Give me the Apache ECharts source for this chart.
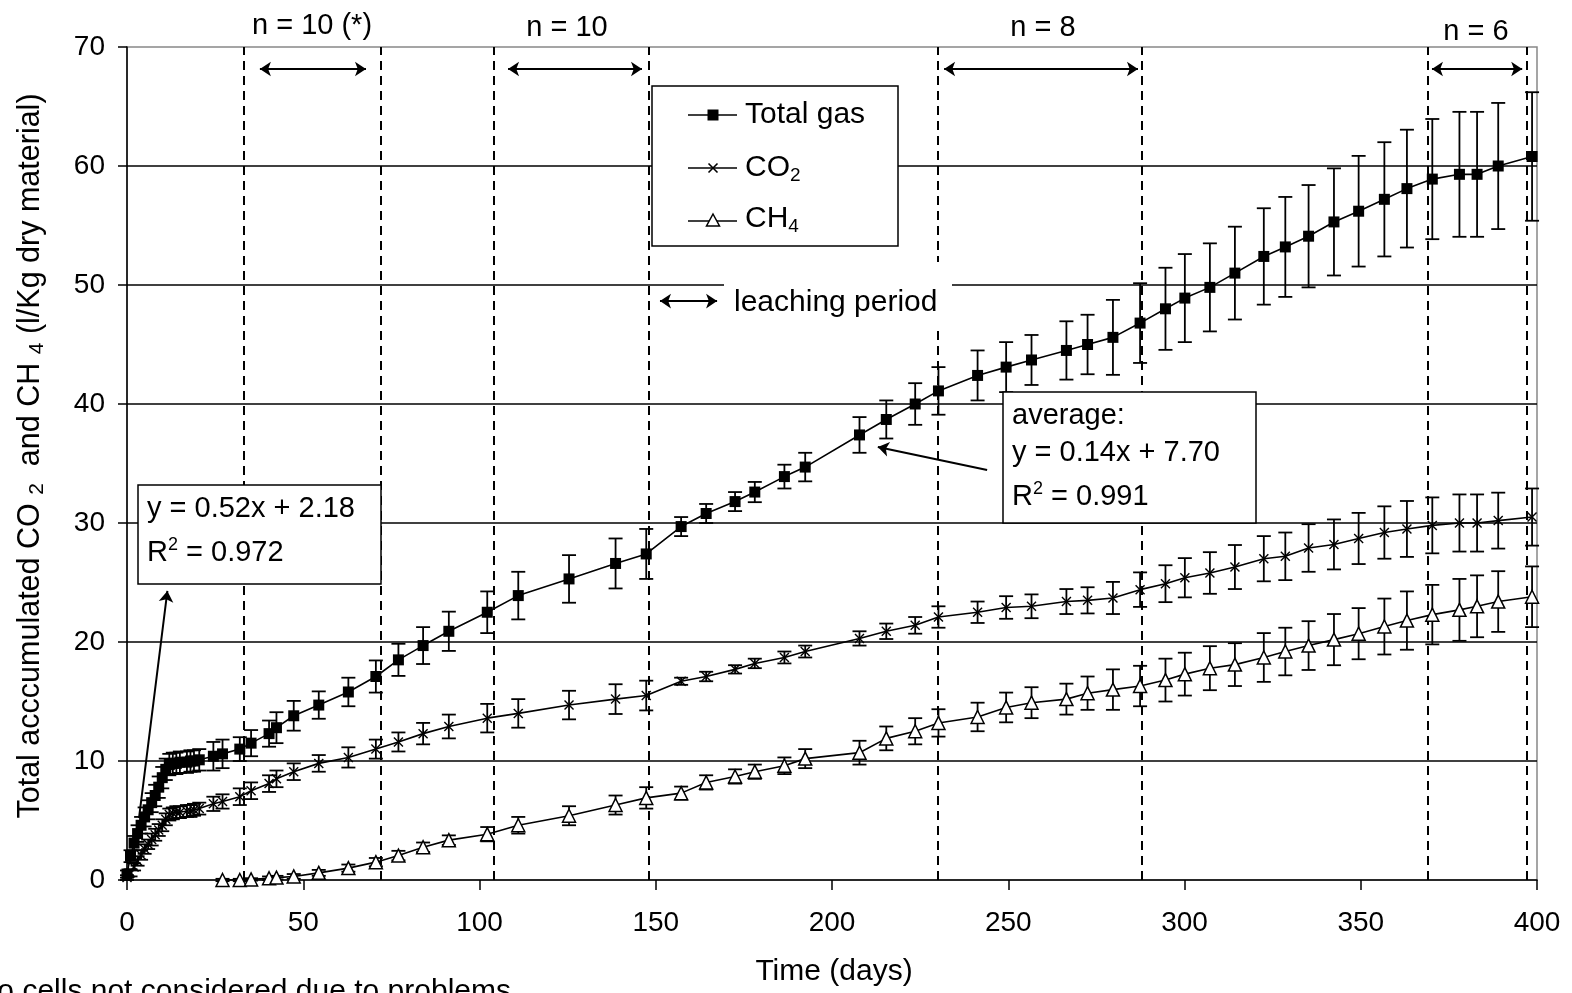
<!DOCTYPE html>
<html><head><meta charset="utf-8">
<script src="https://cdn.jsdelivr.net/npm/echarts@6/dist/echarts.min.js"></script>
<style>html,body{margin:0;padding:0;background:#fff}#c{width:1572px;height:993px}</style>
</head><body><div id="c"></div>
<script>
// ---------- data ----------
const days = [0,1,2,3,4,5,6,7,8,9,10,11,12,13,14,15,17,18,19,20.5,24.5,27.1,32,35.2,40.3,42.4,47.3,54.4,62.8,70.6,77,84,91.3,102.2,111,125.4,138.6,147.3,157.2,164.3,172.5,178.1,186.5,192.4,207.8,215.4,223.6,230.2,241.3,249.4,256.6,266.5,272.5,279.7,287.4,294.6,300.1,307.2,314.3,322.5,328.6,335.2,342.4,349.4,356.7,363.1,370.3,378,383,389,398.6];
const totalGas = [0.5,2.0,3.1,3.9,4.6,5.3,5.9,6.5,7.1,7.8,8.6,9.3,9.7,9.8,9.8,9.9, 9.9,10.0,10.0,10.1, 10.4,10.6,11.0,11.5,12.3,12.8,13.8,14.7,15.8,17.1, 18.5,19.7,20.9,22.5,23.9,25.3,26.6,27.4,29.7,30.8, 31.8,32.6,33.9,34.7,37.4,38.7,40.0,41.1,42.4,43.1, 43.7,44.5,45.0,45.6,46.8,48.0,48.9,49.8,51.0,52.4, 53.2,54.1,55.3,56.2,57.2,58.1,58.9,59.3,59.3,60.0, 60.8];
const totalGasErr = [0.3,0.5,0.6,0.7,0.7,0.8,0.8,0.8,0.9,0.9,0.9,0.9,0.9,0.9,0.9,0.9, 0.9,0.9,0.9,0.9, 1.2,1.2,1.0,1.1,1.1,1.3,1.25,1.15,1.2,1.35, 1.35,1.55,1.65,1.75,2.0,2.0,2.1,2.1,0.8,0.8, 0.8,0.85,1.0,1.2,1.5,1.6,1.75,2.0,2.1,2.1, 2.1,2.45,2.5,3.15,3.35,3.45,3.7,3.7,3.9,4.05, 4.2,4.3,4.5,4.65,4.8,4.95,5.05,5.25,5.25,5.3, 5.4];
const co2 = [0.2,0.6,1.1,1.6,2.1,2.6,3.0,3.4,3.8,4.2,4.6,5.1,5.5,5.6,5.7,5.7, 5.8,5.8,5.9,6.0, 6.4,6.6,7.0,7.5,8.1,8.5,9.1,9.8,10.3,11.0, 11.6,12.3,12.9,13.6,14.0,14.7,15.2,15.5,16.7,17.1, 17.7,18.2,18.7,19.2,20.3,20.9,21.4,22.1,22.5,22.9, 23.0,23.4,23.5,23.7,24.4,24.9,25.4,25.8,26.3,27.0, 27.2,27.9,28.2,28.7,29.2,29.5,29.8,30.0,30.0,30.2, 30.5];
const co2Err = [0.2,0.3,0.3,0.4,0.4,0.4,0.4,0.5,0.5,0.5,0.5,0.5,0.5,0.5,0.5,0.5, 0.5,0.5,0.5,0.5, 0.6,0.6,0.7,0.7,0.7,0.7,0.7,0.7,0.85,0.8, 0.8,0.9,1.0,1.2,1.2,1.2,1.25,1.25,0.3,0.4, 0.35,0.4,0.5,0.5,0.6,0.65,0.7,0.9,0.9,0.95, 1.0,1.05,1.1,1.35,1.45,1.55,1.65,1.75,1.85,1.9, 2.0,2.0,2.1,2.15,2.2,2.35,2.35,2.4,2.4,2.35, 2.4];
const ch4 = [null,null,null,null,null,null,null,null,null,null,null,null,null,null,null,null,null,null,null,null,null, 0.0,0.0,0.05,0.15,0.2,0.3,0.6,1.0,1.5, 2.05,2.75,3.35,3.85,4.6,5.4,6.3,6.9,7.3,8.2, 8.7,9.1,9.6,10.2,10.7,11.9,12.5,13.2,13.7,14.5, 14.9,15.2,15.7,16.0,16.3,16.8,17.3,17.8,18.1,18.7, 19.2,19.7,20.2,20.7,21.3,21.8,22.3,22.7,23.0,23.4, 23.8];
const ch4Err = [null,null,null,null,null,null,null,null,null,null,null,null,null,null,null,null,null,null,null,null,null, 0.1,0.1,0.1,0.15,0.15,0.2,0.25,0.3,0.35, 0.4,0.4,0.4,0.6,0.7,0.8,0.8,0.9,0.55,0.6, 0.6,0.6,0.7,0.8,1.0,1.0,1.1,1.15,1.2,1.25, 1.3,1.3,1.4,1.7,1.7,1.8,1.8,1.85,1.8,2.05, 2.0,2.05,2.15,2.15,2.35,2.45,2.5,2.6,2.6,2.55, 2.55];
const seriesNames = ['Total gas', 'CO2', 'CH4'];
// period boundaries (days) and sample-size labels
const periodLines = [33, 72, 104, 148, 230, 288, 369, 397];
const periodArrows = [[37.7, 67.8], [108.1, 146.1], [231.8, 286.8], [370.2, 395.8]];
const periodArrowLevel = 68.15;
const periodLabels = ['n = 10 (*)', 'n = 10', 'n = 8', 'n = 6'];
const leachingArrow = [151.2, 167.4];
const leachingLevel = 48.65;
const fit1Text = ['y = 0.52x + 2.18', '0.972'];
const fit2Text = ['average:', 'y = 0.14x + 7.70', '0.991'];
const fit1Arrow = [[3.4, 5.21], [11.46, 24.29]];
const fit2Arrow = [[244.0, 34.45], [213.0, 36.39]];

// ---------- helpers ----------
const FONT = "'Liberation Sans', Arial, sans-serif";
const lineData = (vals) => days.map((d, i) => vals[i] == null ? null : [d, vals[i]]).filter(Boolean);
const errData = (vals, errs) => days.map((d, i) => vals[i] == null ? null : [d, vals[i] - errs[i], vals[i] + errs[i]]).filter(Boolean);
const CAP = 7;
function renderErr(params, api) {
  const x = api.value(0), lo = api.value(1), hi = api.value(2);
  const p1 = api.coord([x, lo]), p2 = api.coord([x, hi]);
  const st = { stroke: '#000', lineWidth: 1.8 };
  return { type: 'group', children: [
    { type: 'line', shape: { x1: p1[0], y1: p1[1], x2: p2[0], y2: p2[1] }, style: st },
    { type: 'line', shape: { x1: p1[0] - CAP, y1: p1[1], x2: p1[0] + CAP, y2: p1[1] }, style: st },
    { type: 'line', shape: { x1: p2[0] - CAP, y1: p2[1], x2: p2[0] + CAP, y2: p2[1] }, style: st }
  ]};
}
const XSYM = 'path://M1,0 L5,4 L9,0 L10,1 L6,5 L10,9 L9,10 L5,6 L1,10 L0,9 L4,5 L0,1 Z';

const chart = echarts.init(document.getElementById('c'), null, { renderer: 'canvas' });

const txt = (x, y, text, size, extra) => ({
  type: 'text', x, y, z: 110,
  style: Object.assign({ text, font: `${size}px ${FONT}`, fill: '#000', align: 'left', verticalAlign: 'middle' }, extra || {})
});
const seg = (x1, y1, x2, y2, w) => ({ type: 'line', z: 105, shape: { x1, y1, x2, y2 }, style: { stroke: '#000', lineWidth: w || 1.5 } });
const richSub = (x, y, base, sub) => ({ type: 'text', x, y, z: 110, style: { text: '{a|' + base + '}{s|' + sub + '}', verticalAlign: 'middle', fill: '#000',
  rich: { a: { fontFamily: FONT, fontSize: 30, lineHeight: 34, fill: '#000' }, s: { fontFamily: FONT, fontSize: 19, lineHeight: 20, verticalAlign: 'bottom', fill: '#000' } } } });
const richR2 = (x, y, val) => ({ type: 'text', x, y, z: 110, style: { text: '{r|R}{p|2}{r| = ' + val + '}', verticalAlign: 'middle', fill: '#000',
  rich: { r: { fontFamily: FONT, fontSize: 29, lineHeight: 34, fill: '#000' }, p: { fontFamily: FONT, fontSize: 18, lineHeight: 18, verticalAlign: 'top', fill: '#000' } } } });

const graphics = [
  // y axis title
  { type: 'text', x: 31, y: 456, rotation: Math.PI / 2, z: 110,
    style: { text: '{a|Total acccumulated CO }{s|2}{a|  and CH }{s|4}{a| (l/Kg dry material)}',
      align: 'center', verticalAlign: 'middle', fill: '#000',
      rich: { a: { fontFamily: FONT, fontSize: 30.5, lineHeight: 34, fill: '#000' },
              s: { fontFamily: FONT, fontSize: 21, lineHeight: 22, verticalAlign: 'bottom', fill: '#000' } } } },
  // x axis title
  txt(834, 972, 'Time (days)', 30, { align: 'center' }),
  // footnote (partially outside the canvas)
  txt(511, 992, '(*) two cells not considered due to problems', 30, { align: 'right' }),
  // period labels
  txt(312, 26, periodLabels[0], 29, { align: 'center' }),
  txt(567, 28, periodLabels[1], 29, { align: 'center' }),
  txt(1043, 28, periodLabels[2], 29, { align: 'center' }),
  txt(1476, 32, periodLabels[3], 29, { align: 'center' }),
  // leaching period text with white background
  { type: 'rect', z: 100, shape: { x: 724, y: 262, width: 228, height: 64 }, style: { fill: '#fff' } },
  txt(734, 303, 'leaching period', 30),
  // legend box
  { type: 'rect', z: 100, shape: { x: 652, y: 86, width: 246, height: 160 }, style: { fill: '#fff', stroke: '#000', lineWidth: 1.5 } },
  seg(688, 115, 737, 115),
  { type: 'rect', z: 106, shape: { x: 707.5, y: 109.5, width: 11, height: 11 }, style: { fill: '#000' } },
  seg(688, 168, 737, 168),
  seg(708.5, 163.5, 717.5, 172.5, 1.6),
  seg(717.5, 163.5, 708.5, 172.5, 1.6),
  seg(688, 221, 737, 221),
  { type: 'polygon', z: 106, shape: { points: [[713, 214], [719.5, 226], [706.5, 226]] }, style: { fill: '#fff', stroke: '#000', lineWidth: 1.5 } },
  txt(745, 115, seriesNames[0], 30),
  richSub(745, 168, 'CO', '2'),
  richSub(745, 219, 'CH', '4'),
  // fit box 1
  { type: 'rect', z: 100, shape: { x: 138, y: 485, width: 243, height: 99 }, style: { fill: '#fff', stroke: '#000', lineWidth: 1.5 } },
  txt(147, 509, fit1Text[0], 29),
  richR2(147, 553, fit1Text[1]),
  // fit box 2
  { type: 'rect', z: 100, shape: { x: 1003, y: 392, width: 253, height: 131 }, style: { fill: '#fff', stroke: '#000', lineWidth: 1.5 } },
  txt(1012, 416, fit2Text[0], 29),
  txt(1012, 453, fit2Text[1], 29),
  richR2(1012, 497, fit2Text[2])
];

const arrowLines = [];
periodArrows.forEach(a => arrowLines.push([{ coord: [a[0], periodArrowLevel] }, { coord: [a[1], periodArrowLevel] }]));
arrowLines.push([{ coord: [leachingArrow[0], leachingLevel] }, { coord: [leachingArrow[1], leachingLevel] }]);

const option = {
  animation: false,
  backgroundColor: '#fff',
  textStyle: { fontFamily: FONT },
  grid: { left: 127, right: 35, top: 47, bottom: 113, show: true, borderColor: '#888', borderWidth: 1.5, backgroundColor: 'transparent' },
  xAxis: {
    type: 'value', min: 0, max: 400, interval: 50,
    axisLine: { lineStyle: { color: '#000', width: 1.5 } },
    axisTick: { show: true, inside: false, length: 10, lineStyle: { color: '#000', width: 1.5 } },
    axisLabel: { color: '#000', fontSize: 28, fontFamily: FONT, margin: 29 },
    splitLine: { show: false }
  },
  yAxis: {
    type: 'value', min: 0, max: 70, interval: 10,
    axisLine: { show: true, lineStyle: { color: '#000', width: 1.5 } },
    axisTick: { show: true, inside: false, length: 9, lineStyle: { color: '#000', width: 1.5 } },
    axisLabel: { color: '#000', fontSize: 28, fontFamily: FONT, margin: 22 },
    splitLine: { show: true, showMinLine: false, showMaxLine: false, lineStyle: { color: '#000', width: 1.5 } }
  },
  graphic: graphics,
  series: [
    { type: 'custom', name: 'errTotal', renderItem: renderErr, data: errData(totalGas, totalGasErr), encode: { x: 0, y: [1, 2] }, z: 3, silent: true },
    { type: 'custom', name: 'errCO2', renderItem: renderErr, data: errData(co2, co2Err), encode: { x: 0, y: [1, 2] }, z: 3, silent: true },
    { type: 'custom', name: 'errCH4', renderItem: renderErr, data: errData(ch4, ch4Err), encode: { x: 0, y: [1, 2] }, z: 3, silent: true },
    { type: 'line', name: seriesNames[0], data: lineData(totalGas), showAllSymbol: true, symbol: 'rect', symbolSize: 11,
      itemStyle: { color: '#000' }, lineStyle: { color: '#000', width: 1.6 }, z: 4, silent: true,
      markLine: { silent: true, symbol: 'none', label: { show: false }, z: 2,
        lineStyle: { color: '#000', type: [9, 6], width: 2 },
        data: periodLines.map(d => ({ xAxis: d })) } },
    { type: 'line', name: seriesNames[1], data: lineData(co2), showAllSymbol: true, symbol: XSYM, symbolSize: 10,
      itemStyle: { color: '#000' }, lineStyle: { color: '#000', width: 1.6 }, z: 4, silent: true,
      markLine: { silent: true, symbol: ['arrow', 'arrow'], symbolSize: 11, label: { show: false },
        lineStyle: { color: '#000', type: 'solid', width: 2 }, data: arrowLines } },
    { type: 'line', name: seriesNames[2], data: lineData(ch4), showAllSymbol: true, symbol: 'triangle', symbolSize: 13,
      itemStyle: { color: '#fff', borderColor: '#000', borderWidth: 1.5 }, lineStyle: { color: '#000', width: 1.6 }, z: 5, silent: true,
      markLine: { silent: true, symbol: ['none', 'arrow'], symbolSize: 11, label: { show: false },
        lineStyle: { color: '#000', type: 'solid', width: 2 },
        data: [[{ coord: fit1Arrow[0] }, { coord: fit1Arrow[1] }], [{ coord: fit2Arrow[0] }, { coord: fit2Arrow[1] }]] } }
  ]
};
chart.setOption(option);
</script>
</body></html>
